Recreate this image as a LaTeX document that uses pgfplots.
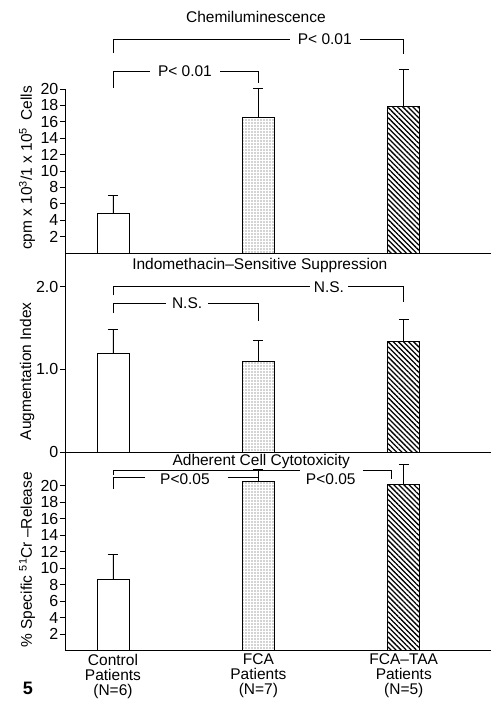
\documentclass[border=0pt]{standalone}
\usepackage{fontspec}
\setmainfont{Liberation Sans}
\usepackage{pgfplots}
\pgfplotsset{compat=1.18}
\usetikzlibrary{patterns.meta}
\newcommand{\ft}{\fontsize{15.5}{15.5}\selectfont}
\pgfplotsset{
  panel/.style={
    scale only axis, width=426pt, xmin=-0.33, xmax=2.6, ymin=0,
    axis lines=left, axis line style={-, line width=0.8pt},
    clip=false, anchor=south west,
    ytick pos=left, tick align=outside, major tick length=5pt,
    tick style={line width=0.8pt, black},
    /pgf/number format/assume math mode=true,
    yticklabel style={font=\fontsize{16}{16}\selectfont, inner sep=1.5pt},
    xtick=\empty,
  },
  bar/.style={ybar, bar width=0.22, bar shift=0pt, draw=black, line width=0.8pt},
  ctrl/.style={bar, fill=white},
  fca/.style={bar, pattern={Dots[distance=3pt, radius=0.7pt]}, pattern color=black!75},
  taa/.style={bar, pattern={Lines[angle=-45, distance=3.6pt, line width=1.3pt]}, pattern color=black},
  err/.style={error bars/.cd, y dir=plus, y explicit, error mark=-,
    error bar style={line width=0.8pt, black, solid},
    error mark options={rotate=90, line width=0.8pt, mark size=5pt, black, solid}},
}
\begin{document}
\begin{tikzpicture}[font=\ft]
\useasboundingbox (0pt,0pt) rectangle (491pt,702pt);

% ---------- Panel 1: Chemiluminescence ----------
\begin{axis}[panel, at={(65pt,449pt)}, height=164pt, ymax=20,
  ytick={2,4,...,20}]
\addplot[ctrl, err] coordinates {(0,4.8) +- (0,2.2)};
\addplot[fca, err] coordinates {(1,16.5) +- (0,3.6)};
\addplot[taa, err] coordinates {(2,17.9) +- (0,4.5)};
\node at (axis cs:0.983,28.8) {Chemiluminescence};
\draw[line width=0.8pt] (axis cs:0,24.4) -- (axis cs:0,26.1) -- (axis cs:2,26.1) -- (axis cs:2,24.3);
\node[fill=white, inner xsep=8pt, inner ysep=1pt] at (axis cs:1.457,26.1) {P< 0.01};
\draw[line width=0.8pt] (axis cs:0,20.1) -- (axis cs:0,22.2) -- (axis cs:1,22.2) -- (axis cs:1,20.7);
\node[fill=white, inner xsep=8pt, inner ysep=1pt] at (axis cs:0.495,22.2) {P< 0.01};
\node[rotate=90] at (rel axis cs:-0.089,0.518) {cpm x 10\textsuperscript{3}/1 x 10\textsuperscript{5}\, Cells};
\end{axis}

% ---------- Panel 2: Indomethacin-Sensitive Suppression ----------
\begin{axis}[panel, at={(65pt,250pt)}, height=199pt, ymax=2.41,
  ytick={0,1,2}, yticklabels={0,1.0,2.0}]
\addplot[ctrl, err] coordinates {(0,1.195) +- (0,0.29)};
\addplot[fca, err] coordinates {(1,1.10) +- (0,0.256)};
\addplot[taa, err] coordinates {(2,1.335) +- (0,0.265)};
\node at (axis cs:1.01,2.264) {Indomethacin–Sensitive Suppression};
\draw[line width=0.8pt] (axis cs:0,1.90) -- (axis cs:0,2.0) -- (axis cs:2,2.0) -- (axis cs:2,1.816);
\node[fill=white, inner xsep=4pt, inner ysep=1pt] at (axis cs:1.485,2.0) {N.S.};
\draw[line width=0.8pt] (axis cs:0,1.683) -- (axis cs:0,1.80) -- (axis cs:1,1.80) -- (axis cs:1,1.586);
\node[fill=white, inner xsep=6pt, inner ysep=1pt] at (axis cs:0.51,1.80) {N.S.};
\node[rotate=90] at (rel axis cs:-0.089,0.405) {Augmentation Index};
\end{axis}

% ---------- Panel 3: Adherent Cell Cytotoxicity ----------
\begin{axis}[panel, at={(65pt,51.5pt)}, height=198.5pt, ymax=24.06,
  ytick={2,4,...,20},
  xtick={0,1,2}, xtick style={draw=none},
  xticklabels={{Control\\Patients\\(N=6)},{FCA\\Patients\\(N=7)},{FCA–TAA\\Patients\\(N=5)}},
  xticklabel style={align=center, font=\fontsize{15.5}{15}\selectfont, yshift=5pt}]
\addplot[ctrl, err] coordinates {(0,8.67) +- (0,3.03)};
\addplot[fca, err] coordinates {(1,20.5) +- (0,1.4)};
\addplot[taa, err] coordinates {(2,20.1) +- (0,2.4)};
\node at (axis cs:1.02,22.85) {Adherent Cell Cytotoxicity};
\draw[line width=0.8pt] (axis cs:0,21.27) -- (axis cs:0,21.88) -- (axis cs:1.286,21.88);
\draw[line width=0.8pt] (axis cs:1.72,21.88) -- (axis cs:1.918,21.88) -- (axis cs:1.918,20.8);
\draw[line width=0.8pt] (axis cs:0,19.6) -- (axis cs:0,21.03) -- (axis cs:0.22,21.03);
\draw[line width=0.8pt] (axis cs:0.79,21.03) -- (axis cs:1.0,21.03);
\node at (axis cs:0.495,20.8) {P<0.05};
\node at (axis cs:1.498,20.8) {P<0.05};
\node[rotate=90] at (rel axis cs:-0.089,0.456) {\% Specific \textsuperscript{51}Cr –Release};
\end{axis}

\node[font=\bfseries\fontsize{18}{18}\selectfont] at (28pt,14pt) {5};
\end{tikzpicture}
\end{document}
